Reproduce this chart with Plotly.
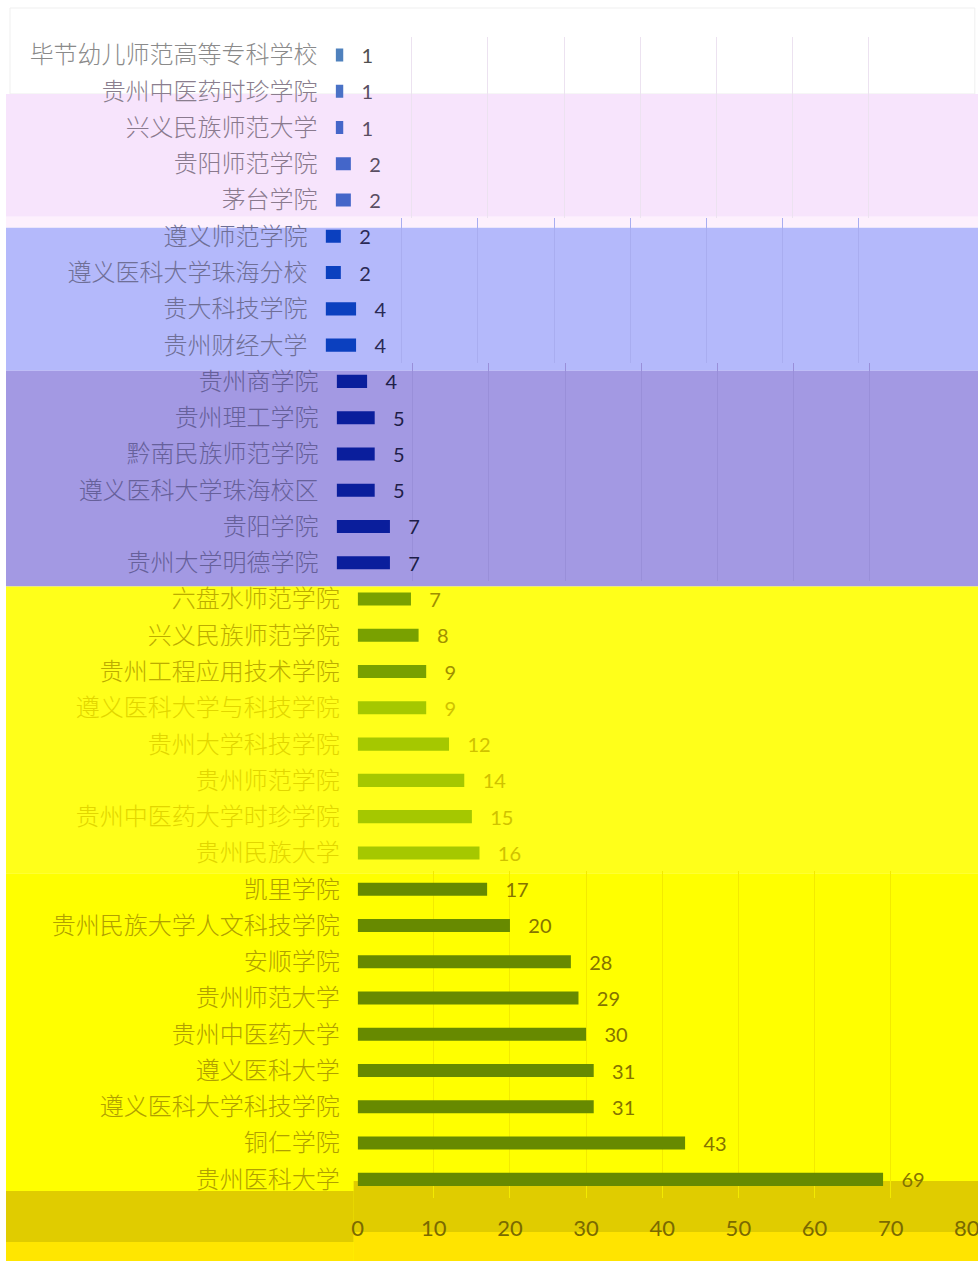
import plotly.graph_objects as go

# ---------------- data ----------------
schools_a = ["毕节幼儿师范高等专科学校", "贵州中医药时珍学院", "兴义民族师范大学", "贵阳师范学院", "茅台学院"]
values_a = [1, 1, 1, 2, 2]

schools_b = ["遵义师范学院", "遵义医科大学珠海分校", "贵大科技学院", "贵州财经大学"]
values_b = [2, 2, 4, 4]

schools_c = ["贵州商学院", "贵州理工学院", "黔南民族师范学院", "遵义医科大学珠海校区", "贵阳学院", "贵州大学明德学院"]
values_c = [4, 5, 5, 5, 7, 7]

schools_d = ["六盘水师范学院", "兴义民族师范学院", "贵州工程应用技术学院", "遵义医科大学与科技学院",
             "贵州大学科技学院", "贵州师范学院", "贵州中医药大学时珍学院", "贵州民族大学"]
values_d = [7, 8, 9, 9, 12, 14, 15, 16]

schools_e = ["凯里学院", "贵州民族大学人文科技学院", "安顺学院", "贵州师范大学", "贵州中医药大学",
             "遵义医科大学", "遵义医科大学科技学院", "铜仁学院", "贵州医科大学"]
values_e = [17, 20, 28, 29, 30, 31, 31, 43, 69]

x_ticks = [0, 10, 20, 30, 40, 50, 60, 70, 80]

# ---------------- styling ----------------
# horizontal mapping of the capture: image_x = OFF + S * page_x
OFF, S = 6.0, 0.979
H = 1261
PITCH = 36.3
FIRST = 54.0
CJK = "Noto Sans CJK SC, sans-serif"
NUM = "Lato, Liberation Sans, sans-serif"


def page_x(img_x):
    return (img_x - OFF) / S


W = int(round(page_x(978)))


def yp(py):
    return 1 - py / H


def xp(img_x):
    return max(0.0, min(1.0, page_x(img_x) / W))


sections = [
    # (schools, values, start_row, zero_px, bar colors, label colors, number colors, gridcolor)
    (schools_a, values_a, 0, 335,
     ["#4f81bd", "#4a72c6", "#4566c9", "#4466c9", "#4466c9"],
     ["#8a8a8a", "#8a7e8e", "#8a7a8e", "#8a7a8e", "#8a7a8e"],
     ["#505050", "#5a4e62", "#5a4e62", "#5a4e62", "#5a4e62"], "#ece2f0"),
    (schools_b, values_b, 5, 325,
     ["#0b40bf"] * 4,
     ["#6f6f96"] * 4,
     ["#2a2a55"] * 4, "#a9adf0"),
    (schools_c, values_c, 9, 336,
     ["#0a1e9c"] * 6,
     ["#66609a"] * 6,
     ["#1e1e48"] * 6, "#998fd9"),
    (schools_d, values_d, 15, 357,
     ["#79a100"] * 3 + ["#a5c800"] * 5,
     ["#bcac00"] * 3 + ["#e2d600"] * 5,
     ["#a08f00"] * 3 + ["#d0c200"] * 5, None),
    (schools_e, values_e, 23, 357,
     ["#678a00"] * 9,
     ["#b0a000"] * 9,
     ["#857400"] * 9, "#f3ea00"),
]

fig = go.Figure()
layout = dict(
    width=W, height=H, autosize=False,
    margin=dict(l=0, r=0, t=0, b=0),
    paper_bgcolor="white",
    plot_bgcolor="rgba(0,0,0,0)",
    showlegend=False,
    bargap=0.64,
)

for i, (cats, vals, start, zero_px, bcol, lcol, ncol, gcol) in enumerate(sections):
    n = len(cats)
    k = "" if i == 0 else str(i + 1)
    top = FIRST + start * PITCH - PITCH / 2
    bot = top + n * PITCH
    fig.add_trace(go.Bar(
        x=vals, y=cats, orientation="h",
        marker=dict(color=bcol, line=dict(width=0)),
        text=[str(v) for v in vals],
        texttemplate="\u00a0\u00a0\u00a0%{text}",
        textposition="outside",
        constraintext="none",
        textfont=dict(family=NUM, size=20, color=ncol),
        cliponaxis=False,
        xaxis="x" + k, yaxis="y" + k,
    ))
    last = (i == len(sections) - 1)
    layout["xaxis" + k] = dict(
        domain=[xp(zero_px), xp(zero_px + 608)],
        anchor="y" + k,
        range=[0, 80],
        tickvals=x_ticks,
        showgrid=gcol is not None, gridcolor=gcol or "rgba(0,0,0,0)", gridwidth=1,
        zeroline=False, showline=False,
        showticklabels=last,
        ticks="outside" if last else "",
        ticklen=11, tickcolor="rgba(0,0,0,0)",
        tickfont=dict(family=NUM, size=22, color="#7a6a00"),
        fixedrange=True,
    )
    ticktext = [f'<span style="color:{c}">{s}</span>' for s, c in zip(cats, lcol)]
    layout["yaxis" + k] = dict(
        domain=[yp(bot), yp(top)],
        anchor="x" + k,
        type="category",
        categoryorder="array", categoryarray=cats,
        range=[n - 0.5, -0.5],
        tickvals=cats, ticktext=ticktext,
        tickfont=dict(family=CJK, size=24, color="#888888", weight=300),
        ticklabelstandoff=17,
        showgrid=False, zeroline=False, showline=False, ticks="",
        fixedrange=True,
    )

# background bands (image pixel boundaries)
bands = [
    (6, 93, 978, 216, "#f7e4fc"),
    (6, 216, 978, 227, "#fdf0fd"),
    (6, 227, 978, 370, "#b4b9fb"),
    (6, 370, 978, 586, "#a399e3"),
    (6, 586, 978, 873, "#ffff1a"),
    (6, 873, 978, 1261, "#ffff00"),
    (6, 1191, 353, 1242, "#e0cc00"),
    (353, 1181, 978, 1232, "#e0cc00"),
    (6, 1242, 353, 1261, "#ffe600"),
    (353, 1232, 978, 1261, "#ffe400"),
]
shapes = [dict(type="rect", xref="paper", yref="paper",
               x0=xp(10), x1=xp(973), y0=yp(93), y1=yp(7),
               line=dict(color="#efefef", width=1), fillcolor="white", layer="below")]
for x0, y0, x1, y1, c in bands:
    shapes.append(dict(type="rect", xref="paper", yref="paper",
                       x0=xp(x0), x1=xp(x1), y0=yp(y1), y1=yp(y0),
                       line=dict(width=0), fillcolor=c, layer="below"))
layout["shapes"] = shapes

fig.update_layout(**layout)
fig.write_html("out.html",
               config={"responsive": False, "displayModeBar": False},
               post_script="document.body.style.margin='0';document.body.style.overflow='hidden';")
